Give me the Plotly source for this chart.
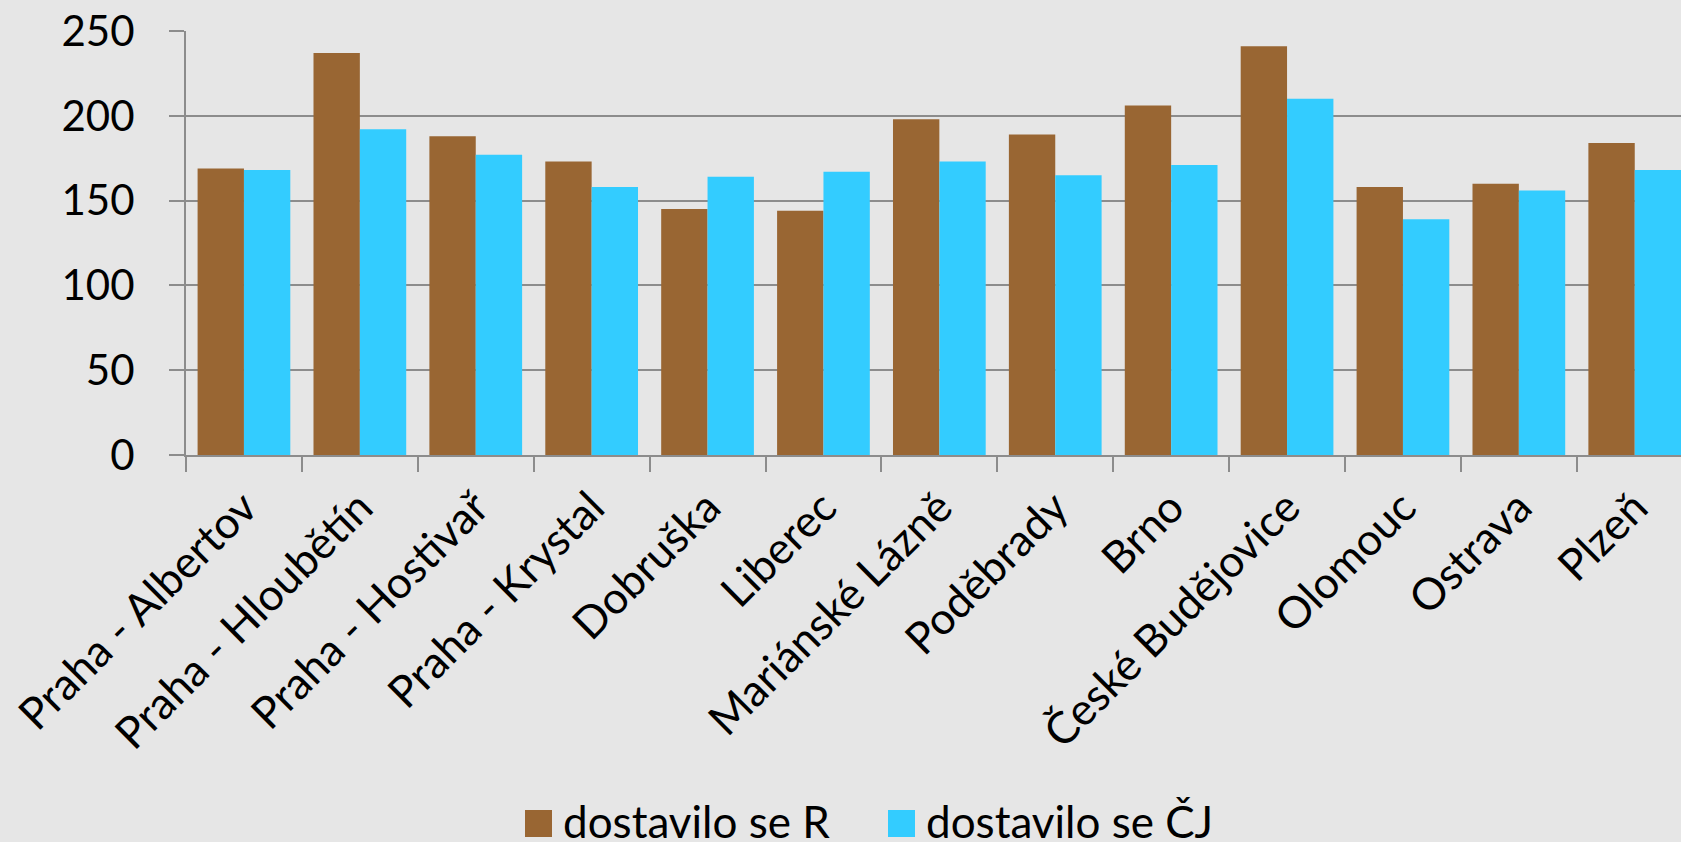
import plotly.graph_objects as go

categories = ["Praha - Albertov", "Praha - Hloubětín", "Praha - Hostivař", "Praha - Krystal",
              "Dobruška", "Liberec", "Mariánské Lázně", "Poděbrady", "Brno",
              "České Budějovice", "Olomouc", "Ostrava", "Plzeň"]
series_r = [169, 237, 188, 173, 145, 144, 198, 189, 206, 241, 158, 160, 184]
series_cj = [168, 192, 177, 158, 164, 167, 173, 165, 171, 210, 139, 156, 168]
series_names = ["dostavilo se R", "dostavilo se ČJ"]
y_ticks = [0, 50, 100, 150, 200, 250]

COL_R = "#996633"
COL_CJ = "#33CCFF"
BG = "#E6E6E6"
GRID = "#8C8C8C"
FONT = "Lato"

W, H = 1681, 842
ML, MR, MT, MB = 186, 0, 31, 387
PW = W - ML - MR
PH = H - MT - MB
cat_px = 115.9

fig = go.Figure()
fig.add_trace(go.Bar(x=categories, y=series_r, name=series_names[0],
                     marker=dict(color=COL_R, line=dict(width=0)), showlegend=False))
fig.add_trace(go.Bar(x=categories, y=series_cj, name=series_names[1],
                     marker=dict(color=COL_CJ, line=dict(width=0)), showlegend=False))

n_vis = PW / cat_px

fig.update_layout(
    width=W, height=H,
    margin=dict(l=ML, r=MR, t=MT, b=MB, pad=0),
    paper_bgcolor=BG, plot_bgcolor=BG,
    barmode="group", bargap=0.2, bargroupgap=0,
    font=dict(family=FONT, color="black", size=42),
    showlegend=False,
)
fig.update_xaxes(
    type="category", range=[-0.5, -0.5 + n_vis],
    showline=True, linecolor=GRID, linewidth=2,
    ticks="outside", ticklen=15, tickwidth=2, tickcolor=GRID,
    tickson="boundaries", tickangle=-45, showgrid=False,
    tickfont=dict(family=FONT, size=44, color="black"),
    ticklabelstandoff=7,
)
fig.update_yaxes(
    range=[0, 250], tickvals=y_ticks, ticktext=[str(v) for v in y_ticks],
    showgrid=True, gridcolor=GRID, gridwidth=2,
    showline=True, linecolor=GRID, linewidth=2,
    ticks="outside", ticklen=15, tickwidth=2, tickcolor=GRID,
    zeroline=False,
    tickfont=dict(family=FONT, size=42, color="black"),
    ticklabelstandoff=26,
)

# custom legend (large square swatches)
def px_x(px):
    return (px - ML) / PW

def px_y(py):
    return (H - MB - py) / PH

legend_items = [(series_names[0], COL_R, 525), (series_names[1], COL_CJ, 888)]
for name, col, x0 in legend_items:
    fig.add_shape(type="rect", xref="paper", yref="paper",
                  x0=px_x(x0), x1=px_x(x0 + 27), y0=px_y(837), y1=px_y(810),
                  fillcolor=col, line=dict(width=0))
    fig.add_annotation(xref="paper", yref="paper", x=px_x(x0 + 36), y=px_y(821),
                       text=name, showarrow=False, xanchor="left", yanchor="middle",
                       font=dict(family=FONT, size=44, color="black"))

fig.write_html("out.html", config={"displayModeBar": False},
               post_script="document.body.style.margin='0';document.body.style.overflow='hidden';")
